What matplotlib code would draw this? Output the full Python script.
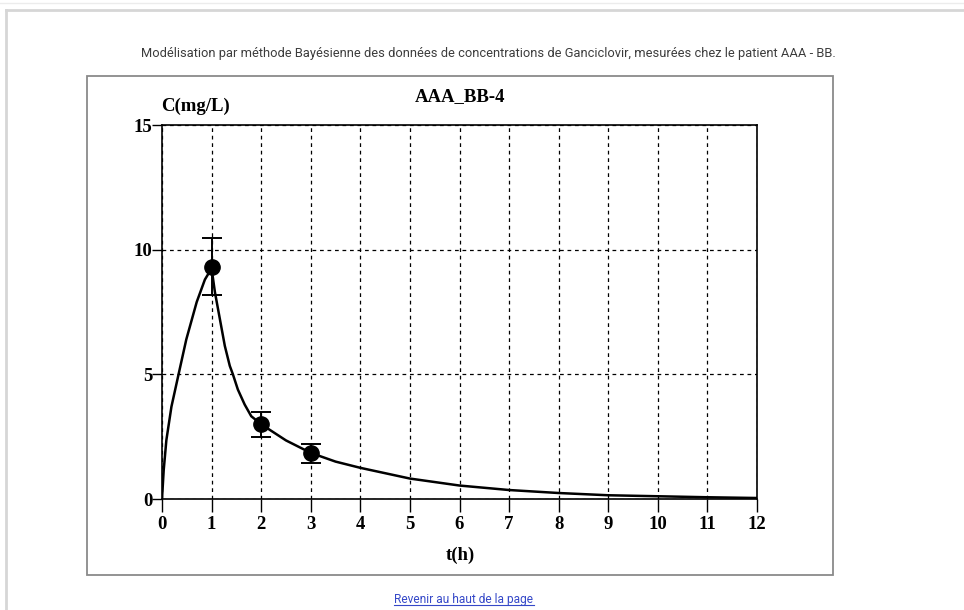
"""
Bayesian PK fit chart for Ganciclovir concentrations (patient AAA - BB)
"""

import matplotlib
matplotlib.use('Agg')  # Non-interactive backend
import matplotlib.pyplot as plt
from matplotlib.patches import Rectangle
from matplotlib.lines import Line2D

# Fitted curve
curve_t = [0, 0.034, 0.088, 0.19, 0.345, 0.49, 0.70, 0.865, 1.0,
           1.067, 1.167, 1.267, 1.367, 1.43, 1.53, 1.667, 1.8, 2.0,
           2.23, 2.5, 3.0, 3.5, 4, 5, 6, 7, 8, 9, 10, 11, 12]
curve_c = [0, 1.15, 2.36, 3.7, 5.1, 6.4, 7.9, 8.8, 9.25,
           8.3, 7.22, 6.14, 5.34, 5.0, 4.39, 3.79, 3.32, 3.0,
           2.7, 2.35, 1.85, 1.5, 1.25, 0.82, 0.54, 0.36, 0.24, 0.15, 0.11, 0.07, 0.04]

# Measured concentrations with error range
obs_t = [1, 2, 3]
obs_c = [9.3, 3.0, 1.83]
obs_hi = [10.45, 3.5, 2.2]
obs_lo = [8.2, 2.5, 1.45]

x_ticks = list(range(0, 13))
y_ticks = [0, 5, 10, 15]

W, H = 964, 610
fig = plt.figure(figsize=(W / 100, H / 100), dpi=100)
fig.patch.set_facecolor('white')


def fx(px):
    return px / W


def fy(py):
    return 1 - py / H


# Page decoration
fig.add_artist(Line2D([fx(0), fx(964)], [fy(3), fy(3)], color='#ececec', lw=1))
fig.add_artist(Line2D([fx(6), fx(964)], [fy(10), fy(10)], color='#d6d6d6', lw=2))
fig.add_artist(Line2D([fx(6), fx(6)], [fy(10), fy(610)], color='#d6d6d6', lw=2))

fig.text(fx(488), fy(53), "Modélisation par méthode Bayésienne des données de concentrations de Ganciclovir, mesurées chez le patient AAA - BB.",
         ha='center', va='center', fontsize=9.3, color='#3c3c3c', family='Roboto')
fig.text(fx(464), fy(599), "Revenir au haut de la page", ha='center', va='center',
         fontsize=8.6, color='#3548c8', family='Roboto')

# underline of the link
fig.add_artist(Line2D([fx(394), fx(534)], [fy(605), fy(605)], color='#3548c8', lw=0.8))

# Chart image frame
fig.add_artist(Rectangle((fx(87), fy(575)), fx(833) - fx(87), fy(76) - fy(575),
                         transform=fig.transFigure, fill=False, edgecolor='#8a8a8a', lw=1.3))

ax = fig.add_axes([fx(162), fy(499), fx(757) - fx(162), fy(125) - fy(499)])
ax.set_xlim(0, 12)
ax.set_ylim(0, 15)

ax.plot(curve_t, curve_c, color='black', lw=1.8, zorder=3)
ax.errorbar(obs_t, obs_c,
            yerr=[[c - lo for c, lo in zip(obs_c, obs_lo)], [hi - c for c, hi in zip(obs_c, obs_hi)]],
            fmt='o', color='black', markersize=11, capsize=7, elinewidth=1.4, capthick=1.4,
            zorder=4, clip_on=False)

ax.set_xticks(x_ticks)
ax.set_yticks(y_ticks)
ax.grid(True, color='black', linestyle=(0, (3, 3)), linewidth=0.9, zorder=1)
for spine in ax.spines.values():
    spine.set_color('black')
    spine.set_linewidth(1.2)
    spine.set_zorder(5)

serif = {'family': 'Liberation Serif', 'weight': 'bold', 'size': 13.5}
ax.set_xticklabels([str(v) for v in x_ticks], fontdict=serif)
ax.set_yticklabels([str(v) for v in y_ticks], fontdict=serif)
ax.tick_params(axis='x', direction='out', length=9, width=1, pad=3)
ax.tick_params(axis='y', direction='out', length=7, width=1, pad=0)

fig.text(fx(460), fy(97), "AAA_BB-4", ha='center', va='center', fontdict=serif)
fig.text(fx(196), fy(106), "C(mg/L)", ha='center', va='center', fontdict=serif)
fig.text(fx(460), fy(555), "t(h)", ha='center', va='center', fontdict=serif)

plt.savefig('out.png', dpi=100)
plt.close()
